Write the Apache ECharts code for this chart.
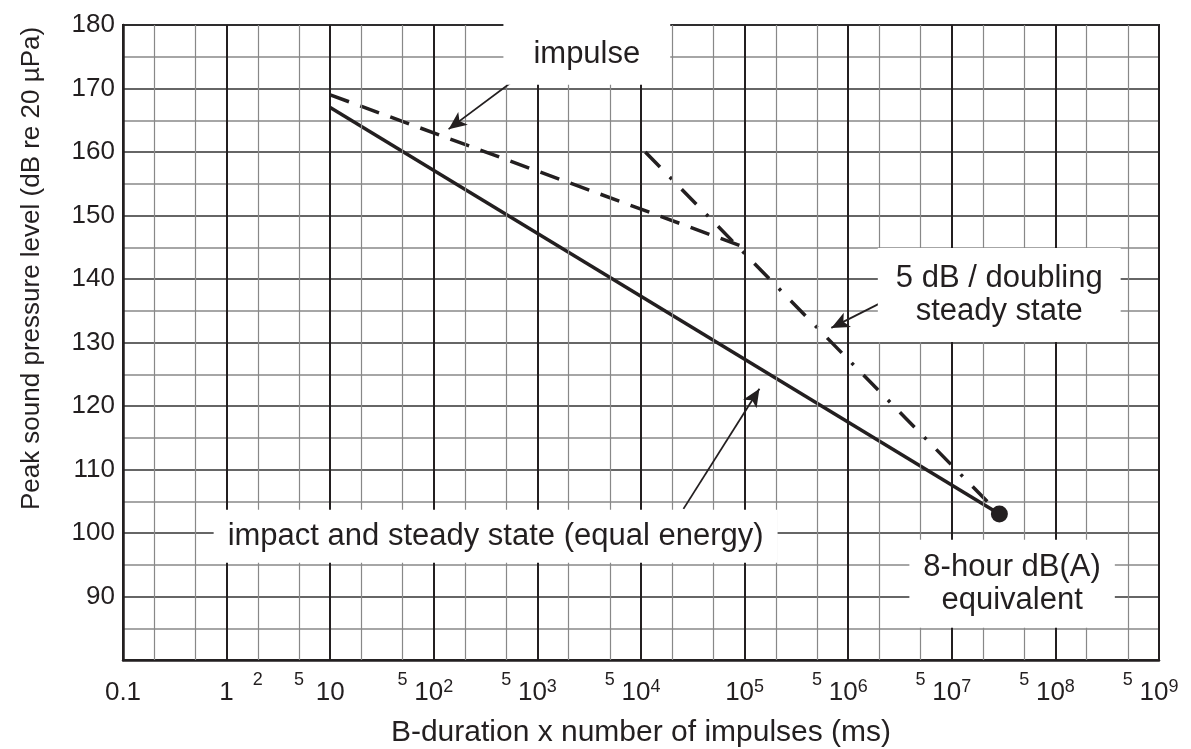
<!DOCTYPE html>
<html>
<head>
<meta charset="utf-8">
<script src="https://cdn.jsdelivr.net/npm/echarts@6/dist/echarts.min.js"></script>
<style>
html, body { margin: 0; padding: 0; background: #fff; }
#chart { width: 1191px; height: 749px; }
</style>
</head>
<body>
<div id="chart"></div>
<script>
// x: B-duration x number of impulses (ms), y: peak SPL (dB)
var equalX = [10, 2.88e7];
var equalY = [167, 103];
var impulseX = [10, 1e5];
var impulseY = [169, 145];
var steadyX = [1.1e4, 2.88e7];
var steadyY = [160, 103];
var refX = [2.88e7];
var refY = [103];

// grid lines at 2 and 5 in every decade
var minorGridX = [0.2, 0.5, 2, 5, 20, 50, 200, 500, 2e3, 5e3, 2e4, 5e4,
                  2e5, 5e5, 2e6, 5e6, 2e7, 5e7, 2e8, 5e8];
// the small raised tick labels
var smallTickX = [2, 5, 50, 500, 5e3, 5e5, 5e6, 5e7, 5e8];
var smallTickText = ['2', '5', '5', '5', '5', '5', '5', '5', '5'];

// annotations
var noteX = [3e3, 2.87e7, 395, 3.82e7];
var noteY = [175.4, 137.5, 99.5, 92];
var noteText = ['impulse', '5 dB / doubling\nsteady state',
                'impact and steady state (equal energy)', '8-hour dB(A)\nequivalent'];
var arrowFrom = [[841, 173.1], [2.78e6, 137.3], [2.57e4, 103.8]];
var arrowTo = [[139, 163.6], [6.87e5, 132.3], [1.39e5, 122.7]];

var notePad = [[14, 30], [14, 18], [10, 14], [11, 14]];
var ink = '#231f20';
var font = 'Liberation Sans, Arial, sans-serif';

function pairs(xs, ys) {
    var out = [];
    for (var i = 0; i < xs.length; i++) out.push([xs[i], ys[i]]);
    return out;
}

var chart = echarts.init(document.getElementById('chart'));

var option = {
    animation: false,
    textStyle: { fontFamily: font, color: ink },
    grid: {
        left: 123, right: 32, top: 25, bottom: 89,
        containLabel: false,
        outerBoundsMode: 'none',
        show: true, borderColor: ink, borderWidth: 2, backgroundColor: '#fff'
    },
    xAxis: {
        type: 'log',
        logBase: 10,
        min: 0.1,
        max: 1e9,
        interval: 1,
        name: 'B-duration x number of impulses (ms)',
        nameLocation: 'middle',
        nameGap: 58,
        nameTextStyle: { fontSize: 30, color: ink, fontFamily: font },
        axisLine: { show: true, lineStyle: { color: ink, width: 2.5 } },
        axisTick: { show: false },
        splitLine: { show: true, lineStyle: { color: '#231f20', width: 2 } },
        axisLabel: {
            margin: 18,
            formatter: function (v) {
                var e = Math.round(Math.log10(v));
                if (e < 0) return '{b|0.1}';
                if (e === 0) return '{b|1}';
                if (e === 1) return '{b|10}';
                return '{b|10}{e|' + e + '}';
            },
            rich: {
                b: { fontSize: 26, lineHeight: 30, color: ink, fontFamily: font },
                e: { fontSize: 18, lineHeight: 8, verticalAlign: 'top', color: ink, fontFamily: font }
            }
        }
    },
    yAxis: {
        type: 'value',
        min: 80,
        max: 180,
        interval: 5,
        name: 'Peak sound pressure level (dB re 20 \u00b5Pa)',
        nameLocation: 'middle',
        nameGap: 78,
        nameTextStyle: { fontSize: 26, color: ink, fontFamily: font, padding: [0, 0, 0, 148] },
        axisLine: { show: true, lineStyle: { color: ink, width: 2.5 } },
        axisTick: { show: false },
        splitLine: { show: true, lineStyle: { color: ['#333', '#888'], width: 1.5 } },
        axisLabel: {
            margin: 8,
            fontSize: 26,
            color: ink,
            formatter: function (v) {
                return (v % 10 === 0 && v > 80) ? String(v) : '';
            }
        }
    },
    series: [
        {
            // minor vertical grid lines
            name: 'minor',
            type: 'line',
            data: [],
            z: 1,
            silent: true,
            markLine: {
                silent: true,
                symbol: 'none',
                label: { show: false },
                lineStyle: { color: '#888', width: 1.2, type: 'solid', opacity: 1 },
                data: minorGridX.map(function (v) { return { xAxis: v }; })
            }
        },
        {
            name: 'small ticks',
            type: 'scatter',
            symbolSize: 0,
            silent: true,
            z: 2,
            itemStyle: { opacity: 1 },
            data: pairs(smallTickX, smallTickX.map(function () { return 80; })),
            label: {
                show: true,
                position: 'bottom',
                distance: 11,
                fontSize: 18,
                color: ink,
                fontFamily: font,
                formatter: function (p) { return smallTickText[p.dataIndex]; }
            }
        },
        {
            name: 'equal energy',
            type: 'line',
            data: pairs(equalX, equalY),
            symbol: 'none',
            z: 4,
            lineStyle: { color: ink, width: 3.5 }
        },
        {
            name: 'impulse',
            type: 'line',
            data: pairs(impulseX, impulseY),
            symbol: 'none',
            z: 4,
            lineStyle: { color: ink, width: 3.5, type: [20, 12], cap: 'butt' }
        },
        {
            name: '5 dB / doubling',
            type: 'line',
            data: pairs(steadyX, steadyY),
            symbol: 'none',
            z: 4,
            lineStyle: { color: ink, width: 3.5, type: [21, 14, 3, 14], cap: 'butt' }
        },
        {
            name: '8-hour',
            type: 'scatter',
            data: pairs(refX, refY),
            symbol: 'circle',
            symbolSize: 17,
            z: 5,
            itemStyle: { color: ink, opacity: 1 }
        },
        {
            name: 'notes',
            type: 'scatter',
            symbolSize: 0,
            silent: true,
            z: 6,
            itemStyle: { opacity: 1 },
            data: pairs(noteX, noteY),
            label: {
                show: true,
                position: 'inside',
                fontSize: 31,
                lineHeight: 33,
                color: ink,
                opacity: 1,
                fontFamily: font,
                align: 'center',
                backgroundColor: '#fff',
                formatter: function (p) { return noteText[p.dataIndex]; }
            },
            markLine: {
                silent: true,
                symbol: ['none', 'arrow'],
                symbolSize: [12, 18],
                label: { show: false },
                lineStyle: { color: ink, width: 1.8, type: 'solid', opacity: 1 },
                data: arrowFrom.map(function (a, i) {
                    return [{ coord: a }, { coord: arrowTo[i] }];
                })
            }
        }
    ]
};

// per-note box padding
option.series[6].data = option.series[6].data.map(function (d, i) {
    return { value: d, label: { padding: notePad[i] } };
});

chart.setOption(option);
</script>
</body>
</html>
